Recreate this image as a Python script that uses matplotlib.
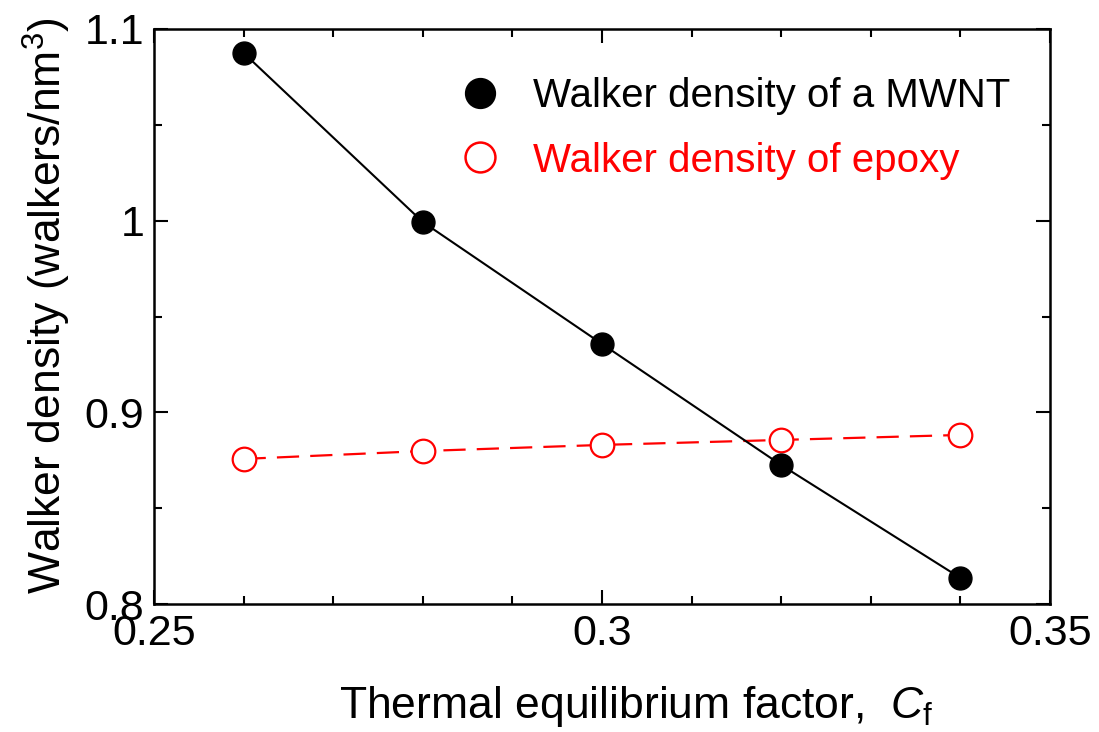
import matplotlib
matplotlib.use("Agg")
import matplotlib.pyplot as plt
from matplotlib.lines import Line2D
from matplotlib.ticker import MultipleLocator

plt.rcParams['font.family'] = ['Liberation Sans', 'DejaVu Sans']
plt.rcParams['mathtext.fontset'] = 'custom'
plt.rcParams['mathtext.rm'] = 'Liberation Sans'
plt.rcParams['mathtext.it'] = 'Liberation Sans:italic'

cf = [0.26, 0.28, 0.30, 0.32, 0.34]
mwnt = [1.0875, 0.9993, 0.9357, 0.8725, 0.8136]
epoxy = [0.8757, 0.8798, 0.8830, 0.8856, 0.8882]
label_mwnt = "Walker density of a MWNT"
label_epoxy = "Walker density of epoxy"

fig = plt.figure(figsize=(10.99, 7.32), dpi=100)
ax = fig.add_axes([154/1099, 1-604/732, (1050-154)/1099, (604-29)/732])

ax.plot(cf, epoxy, color='red', lw=1.6, dashes=(10, 5), marker='o', ms=17,
        mfc='white', mec='red', mew=1.6, zorder=3)
ax.plot(cf, mwnt, color='black', lw=1.5, marker='o', ms=16.5,
        mfc='black', mec='black', zorder=4)

ax.set_xlim(0.25, 0.35)
ax.set_ylim(0.8, 1.1)
ax.xaxis.set_minor_locator(MultipleLocator(0.01))
ax.yaxis.set_minor_locator(MultipleLocator(0.05))
ax.set_xticks([0.25, 0.3, 0.35])
ax.set_xticklabels(['0.25', '0.3', '0.35'])
ax.set_yticks([0.8, 0.9, 1.0, 1.1])
ax.set_yticklabels(['0.8', '0.9', '1', '1.1'])

for s in ax.spines.values():
    s.set_linewidth(1.8)
ax.tick_params(which='both', direction='in', top=True, right=True, width=1.5,
               labelsize=31, pad=7)
ax.tick_params(which='major', length=10)
ax.tick_params(which='minor', length=6)

ax.set_xlabel(r"Thermal equilibrium factor,  $C_\mathrm{f}$", fontsize=32, labelpad=22)
ax.xaxis.label.set_x(0.538)
ax.set_ylabel(r"Walker density (walkers/nm$^3$)", fontsize=32, labelpad=8)
ax.yaxis.label.set_y(0.519)

handles = [Line2D([], [], ls='none', marker='o', ms=21.5, mfc='black', mec='black'),
           Line2D([], [], ls='none', marker='o', ms=21.5, mfc='white', mec='red', mew=1.8)]
leg = ax.legend(handles, [label_mwnt, label_epoxy], loc='upper left',
                bbox_to_anchor=(0.290, 0.979), frameon=False, fontsize=29,
                labelcolor=['black', 'red'], handletextpad=0.57, labelspacing=0.65,
                handlelength=1.5)

fig.savefig('out.png', dpi=100)
